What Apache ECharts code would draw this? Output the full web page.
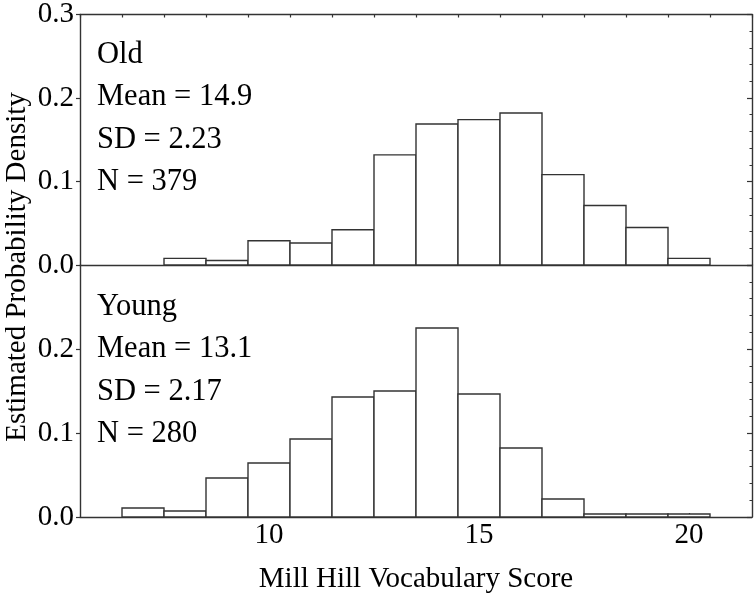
<!DOCTYPE html>
<html>
<head>
<meta charset="utf-8">
<script src="https://cdn.jsdelivr.net/npm/echarts@6/dist/echarts.min.js"></script>
<style>
  html, body { margin: 0; padding: 0; background: #fff; }
  #chart { width: 756px; height: 596px; }
</style>
</head>
<body>
<div id="chart"></div>
<script>
// ---- data ----
const scores = [7, 8, 9, 10, 11, 12, 13, 14, 15, 16, 17, 18, 19, 20];
const oldDensity = [0, 0.0079, 0.0053, 0.0290, 0.0264, 0.0422, 0.1319, 0.1689, 0.1741, 0.1821, 0.1082, 0.0712, 0.0449, 0.0079];
const youngDensity = [0.0107, 0.0071, 0.0464, 0.0643, 0.0929, 0.1429, 0.1500, 0.2250, 0.1464, 0.0821, 0.0214, 0.0036, 0.0036, 0.0036];
const binWidth = 1;
const xTickLabels = [10, 15, 20];
const oldStats = ['Old', 'Mean = 14.9', 'SD = 2.23', 'N = 379'];
const youngStats = ['Young', 'Mean = 13.1', 'SD = 2.17', 'N = 280'];
const xTitle = 'Mill Hill Vocabulary Score';
const yTitle = 'Estimated Probability Density';

// ---- styling ----
const FONT = 'Liberation Serif';
const LINE = '#333';
const xMin = 5.5, xMax = 21.5;

function pairs(vals) {
  const out = [];
  scores.forEach((s, i) => { if (vals[i] > 0) out.push([s, vals[i]]); });
  return out;
}

function renderBin(params, api) {
  const x = api.value(0), y = api.value(1);
  const p0 = api.coord([x - binWidth / 2, y]);
  const p1 = api.coord([x + binWidth / 2, 0]);
  return {
    type: 'rect',
    shape: { x: p0[0], y: p0[1], width: p1[0] - p0[0], height: p1[1] - p0[1] },
    style: { fill: '#fff', stroke: LINE, lineWidth: 1.4 }
  };
}

const axisLine = { show: true, onZero: false, lineStyle: { color: LINE, width: 1.4 } };

function leftY(grid, hideMax) {
  return {
    type: 'value', gridIndex: grid, position: 'left', min: 0, max: 0.3, interval: 0.1,
    axisLine: axisLine,
    axisTick: { show: true, inside: false, length: 4, lineStyle: { color: LINE, width: 1.2 } },
    axisLabel: {
      show: true, margin: 6, fontFamily: FONT, fontSize: 29, color: '#000',
      showMaxLabel: !hideMax,
      formatter: v => v.toFixed(1)
    },
    splitLine: { show: false }
  };
}
function rightY(grid) {
  return {
    type: 'value', gridIndex: grid, position: 'right', min: 0, max: 0.3, interval: 0.1,
    axisLine: axisLine,
    axisTick: { show: true, inside: true, length: 5, lineStyle: { color: LINE, width: 1.2 } },
    minorTick: { show: true, splitNumber: 5, length: 2.5, lineStyle: { color: LINE, width: 1 } },
    axisLabel: { show: false },
    splitLine: { show: false }
  };
}

const option = {
  animation: false,
  backgroundColor: '#fff',
  grid: [
    { left: 80, top: 14, width: 672, height: 251 },
    { left: 80, top: 265, width: 672, height: 252 }
  ],
  xAxis: [
    {
      type: 'value', gridIndex: 0, position: 'bottom', min: xMin, max: xMax,
      axisLine: axisLine, axisTick: { show: false }, axisLabel: { show: false }, splitLine: { show: false }
    },
    {
      type: 'value', gridIndex: 0, position: 'top', min: xMin, max: xMax, interval: 1,
      axisLine: axisLine,
      axisTick: { show: true, inside: true, length: 3, lineStyle: { color: LINE, width: 1.2 } },
      axisLabel: { show: false }, splitLine: { show: false }
    },
    {
      type: 'value', gridIndex: 1, position: 'bottom', min: xMin, max: xMax,
      axisLine: axisLine,
      axisTick: { show: true, inside: true, length: 4, customValues: xTickLabels, lineStyle: { color: LINE, width: 1.2 } },
      axisLabel: { show: true, customValues: xTickLabels, margin: 4, fontFamily: FONT, fontSize: 29, color: '#000' },
      splitLine: { show: false },
      name: xTitle, nameLocation: 'middle', nameGap: 48,
      nameTextStyle: { fontFamily: FONT, fontSize: 29, color: '#000' }
    }
  ],
  yAxis: [leftY(0, false), rightY(0), leftY(1, true), rightY(1)],
  series: [
    {
      type: 'custom', coordinateSystem: 'cartesian2d', xAxisIndex: 0, yAxisIndex: 0,
      renderItem: renderBin, data: pairs(oldDensity), silent: true
    },
    {
      type: 'custom', coordinateSystem: 'cartesian2d', xAxisIndex: 2, yAxisIndex: 2,
      renderItem: renderBin, data: pairs(youngDensity), silent: true
    }
  ],
  graphic: [].concat(
    oldStats.map((t, i) => ({
      type: 'text', x: 97, y: 54.5 + i * 42.5,
      style: { text: t, fontFamily: FONT, fontSize: 30.5, fill: '#000', align: 'left', verticalAlign: 'middle' }
    })),
    youngStats.map((t, i) => ({
      type: 'text', x: 97, y: 306.7 + i * 42.5,
      style: { text: t, fontFamily: FONT, fontSize: 30.5, fill: '#000', align: 'left', verticalAlign: 'middle' }
    })),
    [{
      type: 'text', x: 17, y: 267, rotation: Math.PI / 2,
      style: { text: yTitle, fontFamily: FONT, fontSize: 29, fill: '#000', align: 'center', verticalAlign: 'middle' }
    }]
  )
};

const chart = echarts.init(document.getElementById('chart'), null, { renderer: 'canvas' });
chart.setOption(option);
</script>
</body>
</html>
